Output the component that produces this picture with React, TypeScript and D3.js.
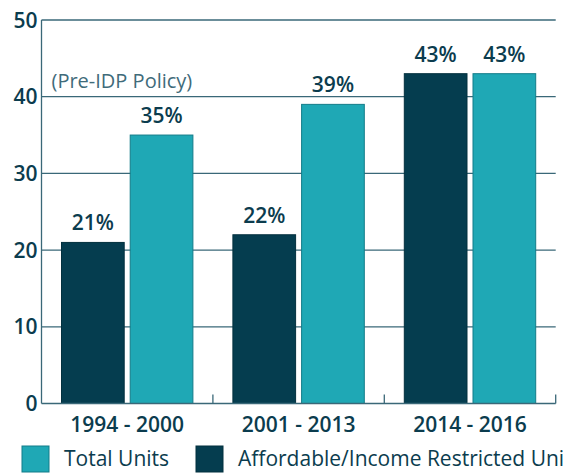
import React from "react";
import * as d3 from "d3";

const periods = ["1994 - 2000", "2001 - 2013", "2014 - 2016"];
const affordableUnits = [21, 22, 43];
const totalUnits = [35, 39, 43];
const yTicks = [0, 10, 20, 30, 40, 50];
const seriesNames = ["Total Units", "Affordable/Income Restricted Units"];
const noteText = "(Pre-IDP Policy)";

const TEAL = "#1fa8b5";
const DARK = "#053d4f";
const TEXT = "#0b3c4e";
const FONT = "'Open Sans', sans-serif";

const App = () => {
  const width = 563,
    height = 476;
  const margin = { top: 20, right: 7.3, bottom: 72.5, left: 41.5 };
  const innerW = width - margin.left - margin.right;
  const innerH = height - margin.top - margin.bottom;

  const x = d3.scaleBand<string>().domain(periods).range([0, innerW]).padding(0);
  const y = d3.scaleLinear().domain([0, 50]).range([innerH, 0]);

  const bw = x.bandwidth();
  const side = 20;
  const gap = 6;
  const barW = (bw - 2 * side - gap) / 2;

  const bars = periods.flatMap((p, i) => [
    { key: p + "-a", x: (x(p) as number) + side, v: affordableUnits[i], fill: DARK, stroke: "#03303e" },
    { key: p + "-t", x: (x(p) as number) + side + barW + gap, v: totalUnits[i], fill: TEAL, stroke: "#137c89" },
  ]);

  return (
    <svg
      width={width}
      height={height}
      style={{ position: "absolute", left: 0, top: 0, background: "#fff" }}
      fontFamily={FONT}
    >
      <g transform={`translate(${margin.left},${margin.top})`}>
        {/* grid lines */}
        {yTicks.slice(1).map((t) => (
          <line key={t} x1={0} x2={innerW} y1={y(t)} y2={y(t)} stroke="#3a6878" strokeWidth={1.3} />
        ))}
        {yTicks.map((t) => (
          <text
            key={"l" + t}
            x={-4}
            y={y(t) + 2}
            textAnchor="end"
            dominantBaseline="middle"
            fontSize={21}
            fontWeight={600}
            fill={TEXT}
          >
            {t}
          </text>
        ))}

        <text x={10} y={y(40) - 9} fontSize={20} fill="#3f6b7a">
          {noteText}
        </text>

        {bars.map((b) => (
          <g key={b.key}>
            <rect
              x={b.x}
              y={y(b.v)}
              width={barW}
              height={innerH - y(b.v)}
              fill={b.fill}
              stroke={b.stroke}
              strokeWidth={1}
            />
            <text
              x={b.x + barW / 2}
              y={y(b.v) - 12}
              textAnchor="middle"
              fontSize={21}
              fontWeight={600}
              fill={TEXT}
            >
              {b.v}%
            </text>
          </g>
        ))}

        {/* axes */}
        <line x1={0} x2={0} y1={0} y2={innerH} stroke="#3a6878" strokeWidth={1.3} />
        <line x1={0} x2={innerW} y1={innerH} y2={innerH} stroke="#3a6878" strokeWidth={1.5} />
        {periods.map((p) => (
          <line
            key={"tk" + p}
            x1={(x(p) as number) + bw}
            x2={(x(p) as number) + bw}
            y1={innerH}
            y2={innerH - 9}
            stroke="#3a6878"
            strokeWidth={1.3}
          />
        ))}
        {periods.map((p) => (
          <text
            key={"c" + p}
            x={(x(p) as number) + bw / 2}
            y={innerH + 28}
            textAnchor="middle"
            fontSize={21}
            fontWeight={600}
            fill={TEXT}
          >
            {p}
          </text>
        ))}
      </g>

      {/* legend */}
      <g transform="translate(22,446)">
        <rect x={0} y={0} width={27} height={26} fill={TEAL} stroke="#137c89" />
        <text x={42} y={20} fontSize={21} fill={TEXT}>
          {seriesNames[0]}
        </text>
        <rect x={174} y={0} width={27} height={26} fill={DARK} stroke="#03303e" />
        <text x={216} y={20} fontSize={21} fill={TEXT}>
          {seriesNames[1]}
        </text>
      </g>
    </svg>
  );
};

export default App;
